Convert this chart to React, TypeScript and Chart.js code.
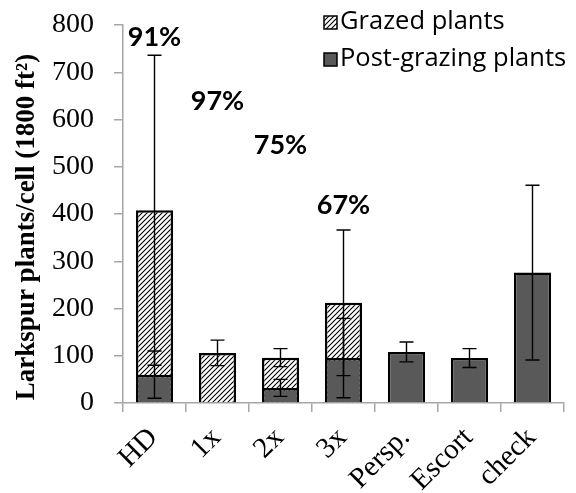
import React, { useEffect, useRef } from "react";
import { Chart, registerables } from "chart.js";
Chart.register(...registerables);

const categories = ["HD", "1x", "2x", "3x", "Persp.", "Escort", "check"];
const grazed = [408, 106, 96, 212, null, null, null];
const grazedErr = [328, 27, 19, 154, 0, 0, 0];
const post = [60, 2, 32, 95, 108, 95, 276];
const postErr = [50, 0, 18, 84, 21, 20, 185];
const pctLabels = ["91%", "97%", "75%", "67%"];
const pctValues = [773, 639, 546, 419];
const legendLabels = ["Grazed plants", "Post-grazing plants"];
const yTitle = "Larkspur plants/cell (1800 ft²)";

function makeHatch(): CanvasPattern | string {
  const c = document.createElement("canvas");
  const s = 5;
  c.width = s;
  c.height = s;
  const g = c.getContext("2d");
  if (!g) return "#fff";
  g.fillStyle = "#ffffff";
  g.fillRect(0, 0, s, s);
  g.strokeStyle = "#000";
  g.lineWidth = 1.1;
  g.beginPath();
  g.moveTo(-1, s + 1);
  g.lineTo(s + 1, -1);
  g.moveTo(-1, 1);
  g.lineTo(1, -1);
  g.moveTo(s - 1, s + 1);
  g.lineTo(s + 1, s - 1);
  g.stroke();
  const p = g.createPattern(c, "repeat");
  return p || "#fff";
}

const errorBarPlugin = {
  id: "errorBars",
  afterDatasetsDraw(chart: any) {
    const ctx = chart.ctx;
    const y = chart.scales.y;
    const sets = [
      { idx: 0, vals: grazed, errs: grazedErr },
      { idx: 1, vals: post, errs: postErr },
    ];
    ctx.save();
    ctx.strokeStyle = "#000";
    ctx.lineWidth = 1.4;
    sets.forEach((s) => {
      const meta = chart.getDatasetMeta(s.idx);
      s.vals.forEach((v, i) => {
        const e = s.errs[i];
        if (v == null || !e) return;
        const x = meta.data[i].x;
        const top = y.getPixelForValue(v + e);
        const bot = y.getPixelForValue(v - e);
        const cap = 7;
        ctx.beginPath();
        ctx.moveTo(x, top);
        ctx.lineTo(x, bot);
        ctx.moveTo(x - cap, top);
        ctx.lineTo(x + cap, top);
        ctx.moveTo(x - cap, bot);
        ctx.lineTo(x + cap, bot);
        ctx.stroke();
      });
    });
    ctx.restore();
  },
};

const labelPlugin = {
  id: "pctLabels",
  afterDraw(chart: any) {
    const ctx = chart.ctx;
    const y = chart.scales.y;
    const x = chart.scales.x;
    ctx.save();
    ctx.fillStyle = "#000";
    ctx.font = "bold 27px Lato, 'Open Sans', sans-serif";
    ctx.textAlign = "center";
    ctx.textBaseline = "middle";
    pctLabels.forEach((t, i) => {
      ctx.fillText(t, x.getPixelForValue(i), y.getPixelForValue(pctValues[i]));
    });
    // y axis title
    ctx.save();
    ctx.translate(27, 227);
    ctx.rotate(-Math.PI / 2);
    ctx.font = "bold 27px 'Liberation Serif', serif";
    ctx.fillText(yTitle, 0, 0);
    ctx.restore();
    // legend
    const hatch = makeHatch();
    const items = [
      { fill: hatch, text: legendLabels[0], y: 22 },
      { fill: "#595959", text: legendLabels[1], y: 59 },
    ];
    ctx.font = "25.5px 'Open Sans', Lato, sans-serif";
    ctx.textAlign = "left";
    items.forEach((it) => {
      ctx.fillStyle = it.fill as any;
      ctx.fillRect(324, it.y - 6, 13, 13);
      ctx.strokeStyle = "#000";
      ctx.lineWidth = 1.5;
      ctx.strokeRect(324, it.y - 6, 13, 13);
      ctx.fillStyle = "#000";
      ctx.fillText(it.text, 340, it.y);
    });
    ctx.restore();
  },
};

export default function App() {
  const ref = useRef<HTMLCanvasElement>(null);
  useEffect(() => {
    if (!ref.current) return;
    const hatch = makeHatch();
    const axisColor = "#a6a6a6";
    const chart = new Chart(ref.current, {
      type: "bar",
      data: {
        labels: categories,
        datasets: [
          {
            label: legendLabels[0],
            data: grazed as any,
            backgroundColor: hatch as any,
            borderColor: "#000",
            borderWidth: 2.5,
            grouped: false,
            order: 2,
            categoryPercentage: 1,
            barPercentage: 0.59,
          },
          {
            label: legendLabels[1],
            data: post,
            backgroundColor: "#595959",
            borderColor: "#000",
            borderWidth: 2.5,
            grouped: false,
            order: 1,
            categoryPercentage: 1,
            barPercentage: 0.59,
          },
        ],
      },
      options: {
        responsive: false,
        animation: false,
        layout: { padding: { top: 25, right: 12, left: 0, bottom: 0 } },
        plugins: { legend: { display: false }, tooltip: { enabled: false } },
        scales: {
          x: {
            grid: {
              offset: true,
              drawOnChartArea: false,
              drawTicks: true,
              tickLength: 9,
              color: axisColor,
              lineWidth: 1.5,
            },
            border: { color: axisColor, width: 1.5 },
            ticks: {
              color: "#000",
              font: { family: "'Liberation Serif', serif", size: 29 },
              maxRotation: 45,
              minRotation: 45,
              padding: 9,
              labelOffset: -1,
            },
            afterFit: (s: any) => {
              s.height = 90;
              s.paddingLeft = 0;
              s.paddingRight = 0;
            },
          },
          y: {
            min: 0,
            max: 800,
            ticks: {
              stepSize: 100,
              color: "#000",
              font: { family: "'Liberation Serif', serif", size: 28 },
              padding: 20,
            },
            grid: {
              drawOnChartArea: false,
              drawTicks: true,
              tickLength: 9,
              color: axisColor,
              lineWidth: 1.5,
            },
            border: { color: axisColor, width: 1.5 },
            title: { display: false },
            afterFit: (s: any) => {
              s.width = 123;
              s.paddingTop = 0;
              s.paddingBottom = 0;
            },
          },
        },
      },
      plugins: [errorBarPlugin, labelPlugin],
    });
    return () => chart.destroy();
  }, []);
  return (
    <div style={{ position: "fixed", left: 0, top: 0 }}>
      <canvas ref={ref} width={576} height={493} />
    </div>
  );
}
